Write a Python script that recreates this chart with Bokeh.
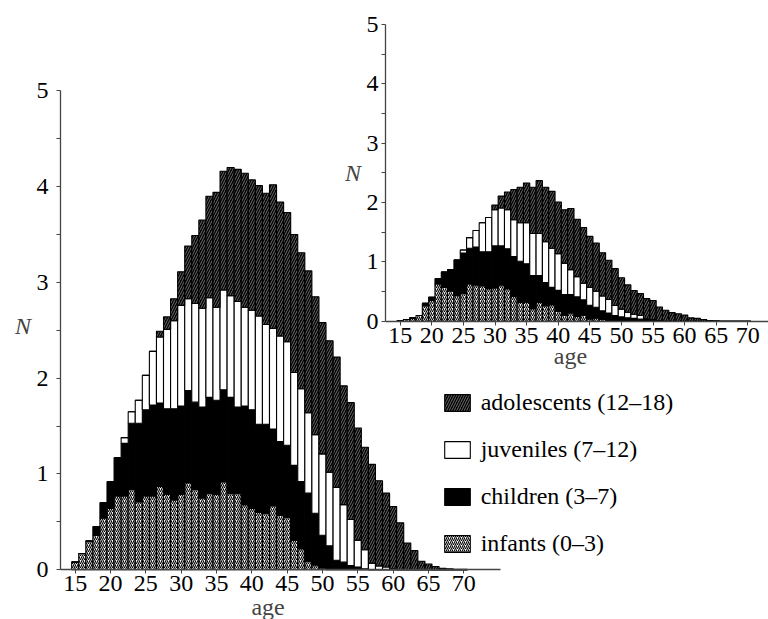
from bokeh.plotting import figure
from bokeh.models import Range1d, LinearAxis, FixedTicker, Label, Legend, LegendItem, ColumnDataSource
from bokeh.embed import file_html
from bokeh.resources import INLINE

# ---------------- data ----------------
ages = list(range(15, 71))

main_infants = [0.08, 0.17, 0.30, 0.36, 0.54, 0.64, 0.77, 0.77, 0.84, 0.71,
                0.77, 0.77, 0.87, 0.79, 0.73, 0.79, 0.91, 0.84, 0.75, 0.80,
                0.79, 0.92, 0.80, 0.80, 0.68, 0.64, 0.60, 0.59, 0.67, 0.57,
                0.55, 0.31, 0.22, 0.09, 0.05, 0.02, 0, 0, 0, 0,
                0, 0, 0, 0, 0, 0, 0, 0, 0, 0,
                0, 0, 0, 0, 0, 0]
main_children = [0, 0, 0, 0.09, 0.16, 0.28, 0.40, 0.55, 0.69, 0.82,
                 0.90, 0.95, 0.87, 0.89, 0.95, 0.92, 0.96, 0.91, 0.95, 1.00,
                 0.98, 0.96, 1.00, 0.90, 1.03, 1.03, 0.92, 0.93, 0.80, 0.77,
                 0.75, 0.78, 0.70, 0.71, 0.54, 0.34, 0.25, 0.10, 0.08, 0.045,
                 0.03, 0.01, 0, 0, 0, 0, 0, 0, 0, 0,
                 0, 0, 0, 0, 0, 0]
main_juveniles = [0, 0, 0, 0, 0, 0, 0, 0.06, 0.12, 0.24,
                  0.36, 0.56, 0.69, 0.83, 0.92, 1.05, 0.96, 1.03, 1.03, 1.04,
                  0.97, 1.04, 1.06, 1.10, 1.03, 1.04, 1.13, 1.04, 1.05, 1.10,
                  1.08, 0.97, 0.97, 0.84, 0.82, 0.85, 0.77, 0.76, 0.60, 0.48,
                  0.28, 0.20, 0.07, 0.04, 0.03, 0.01, 0, 0, 0, 0,
                  0, 0, 0, 0, 0, 0]
main_adolescents = [0, 0, 0, 0, 0, 0, 0, 0, 0, 0,
                    0, 0, 0.06, 0.13, 0.23, 0.35, 0.55, 0.71, 0.92, 1.06,
                    1.20, 1.24, 1.34, 1.38, 1.40, 1.36, 1.36, 1.37, 1.50, 1.40,
                    1.35, 1.44, 1.42, 1.48, 1.44, 1.37, 1.37, 1.36, 1.24, 1.22,
                    1.17, 1.07, 1.03, 0.89, 0.77, 0.65, 0.49, 0.28, 0.20, 0.09,
                    0.06, 0.035, 0.015, 0.01, 0.005, 0.005]

inset_infants = [0.01, 0.03, 0.056, 0.096, 0.26, 0.35, 0.63, 0.57, 0.51, 0.43,
                 0.47, 0.63, 0.61, 0.60, 0.55, 0.56, 0.61, 0.55, 0.42, 0.32,
                 0.32, 0.21, 0.32, 0.26, 0.28, 0.17, 0.10, 0.14, 0.08, 0.10,
                 0.04, 0.056, 0.03, 0.01, 0, 0, 0, 0, 0, 0,
                 0, 0, 0, 0, 0, 0, 0, 0, 0, 0,
                 0, 0, 0, 0, 0, 0]
inset_children = [0, 0, 0, 0, 0.04, 0.055, 0.085, 0.26, 0.36, 0.60,
                  0.68, 0.60, 0.64, 0.57, 0.62, 0.71, 0.66, 0.67, 0.67, 0.69,
                  0.65, 0.56, 0.45, 0.39, 0.29, 0.35, 0.35, 0.31, 0.33, 0.26,
                  0.23, 0.18, 0.145, 0.127, 0.096, 0.073, 0.058, 0.048, 0.035, 0.02,
                  0.01, 0, 0, 0, 0, 0, 0, 0, 0, 0,
                  0, 0, 0, 0, 0, 0]
inset_juveniles = [0, 0, 0, 0, 0, 0, 0, 0, 0, 0,
                   0.05, 0.18, 0.28, 0.49, 0.58, 0.61, 0.64, 0.66, 0.62, 0.65,
                   0.69, 0.71, 0.71, 0.69, 0.66, 0.62, 0.53, 0.42, 0.34, 0.28,
                   0.30, 0.27, 0.25, 0.23, 0.17, 0.13, 0.094, 0.07, 0.06, 0.02,
                   0.02, 0.01, 0, 0, 0, 0, 0, 0, 0, 0,
                   0, 0, 0, 0, 0, 0]
inset_adolescents = [0, 0, 0, 0, 0, 0, 0, 0, 0, 0,
                     0, 0, 0, 0, 0, 0.08, 0.20, 0.30, 0.51, 0.60,
                     0.67, 0.78, 0.89, 0.92, 0.96, 0.87, 0.90, 1.03, 0.97, 0.94,
                     0.86, 0.81, 0.73, 0.66, 0.62, 0.53, 0.46, 0.40, 0.37, 0.34,
                     0.32, 0.23, 0.185, 0.145, 0.125, 0.105, 0.056, 0.048, 0.028, 0.011,
                     0.005, 0, 0, 0, 0, 0]

layer_names = ["infants", "children", "juveniles", "adolescents"]
legend_labels = ["infants (0\u20133)", "children (3\u20137)", "juveniles (7\u201312)", "adolescents (12\u201318)"]
x_ticks = [15, 20, 25, 30, 35, 40, 45, 50, 55, 60, 65, 70]
y_ticks = [0, 1, 2, 3, 4, 5]
y_minor = [0.5, 1.5, 2.5, 3.5, 4.5]

# ---------------- figure ----------------
W, H = 768, 619
FONT = "'Liberation Serif', 'Times New Roman', serif"
p = figure(width=W, height=H, output_backend="svg", toolbar_location=None, title=None,
           x_range=Range1d(4.427, 113.13), y_range=Range1d(-0.5188, 5.9426),
           x_axis_location=None, y_axis_location=None, min_border=0,
           outline_line_color=None, tools="")
p.grid.visible = False
p.extra_x_ranges = {"ix": Range1d(-48.244, 73.275)}
p.extra_y_ranges = {"iy": Range1d(-5.030, 5.408)}

styles = [
    dict(fill_color="white", hatch_pattern="/", hatch_color="black", hatch_scale=4.0, hatch_weight=1.1),
    dict(fill_color="black"),
    dict(fill_color="white"),
    dict(fill_color="black", hatch_pattern="/", hatch_color="#8a8a8a", hatch_scale=5.0, hatch_weight=0.8),
]

src_main = ColumnDataSource(dict(age=ages, infants=main_infants, children=main_children,
                                 juveniles=main_juveniles, adolescents=main_adolescents))
src_inset = ColumnDataSource(dict(age=ages, infants=inset_infants, children=inset_children,
                                  juveniles=inset_juveniles, adolescents=inset_adolescents))


def cum(data, upto):
    out = [0.0] * len(ages)
    for name in layer_names[:upto]:
        out = [a + b for a, b in zip(out, data[name])]
    return out


main_renderers = []
for src, kw, store in ((src_main, {}, main_renderers),
                       (src_inset, dict(x_range_name="ix", y_range_name="iy"), None)):
    for i, name in enumerate(layer_names):
        src.data[name + "_bot"] = cum(src.data, i)
        src.data[name + "_top"] = cum(src.data, i + 1)
        r = p.vbar(x="age", width=1.0, bottom=name + "_bot", top=name + "_top", source=src,
                   line_color="black", line_width=1.1, **styles[i], **kw)
        if store is not None:
            store.append(r)


def style_axis(ax, standoff):
    ax.axis_line_color = "#444444"
    ax.axis_line_width = 1.3
    ax.major_tick_line_color = "#444444"
    ax.minor_tick_line_color = "#444444"
    ax.major_tick_in = 0
    ax.major_tick_out = 4
    ax.minor_tick_in = 0
    ax.minor_tick_out = 4
    ax.major_label_text_font = FONT
    ax.major_label_text_font_size = "24px"
    ax.major_label_text_color = "black"
    ax.major_label_standoff = standoff


ax_mx = LinearAxis(fixed_location=0, bounds=(12.919, 75.2), ticker=FixedTicker(ticks=x_ticks))
style_axis(ax_mx, 2)
p.add_layout(ax_mx, "below")
ax_my = LinearAxis(fixed_location=12.919, bounds=(0, 5), ticker=FixedTicker(ticks=y_ticks, minor_ticks=y_minor))
style_axis(ax_my, 8)
p.add_layout(ax_my, "left")
ax_ix = LinearAxis(x_range_name="ix", y_range_name="iy", fixed_location=0, bounds=(12.674, 80),
                   ticker=FixedTicker(ticks=x_ticks))
style_axis(ax_ix, 3)
p.add_layout(ax_ix, "below")
ax_iy = LinearAxis(x_range_name="ix", y_range_name="iy", fixed_location=12.674, bounds=(0, 5),
                   ticker=FixedTicker(ticks=y_ticks, minor_ticks=y_minor))
style_axis(ax_iy, 3)
p.add_layout(ax_iy, "left")

# axis titles
for txt, x, y, kw, style, base in (("N", 7.61, 2.545, {}, "italic", "middle"),
                                   ("age", 42.3, -0.3935, {}, "normal", "alphabetic"),
                                   ("N", 7.53, 2.50, dict(x_range_name="ix", y_range_name="iy"), "italic", "middle"),
                                   ("age", 41.95, -0.595, dict(x_range_name="ix", y_range_name="iy"), "normal", "middle")):
    p.add_layout(Label(x=x, y=y, text=txt, text_font=FONT, text_font_size="24px",
                       text_font_style=style, text_align="center", text_baseline=base, **kw))

items = [LegendItem(label=legend_labels[i], renderers=[main_renderers[i]]) for i in (3, 2, 1, 0)]
legend = Legend(items=items, location=(440.7, 62), orientation="vertical",
                glyph_width=32, glyph_height=21, label_standoff=8, spacing=20,
                padding=0, margin=0, border_line_color=None, background_fill_alpha=0,
                label_text_font=FONT, label_text_font_size="24px", label_height=21,
                label_text_color="black")
p.add_layout(legend, "center")

open("out.html", "w").write(file_html(p, INLINE))
